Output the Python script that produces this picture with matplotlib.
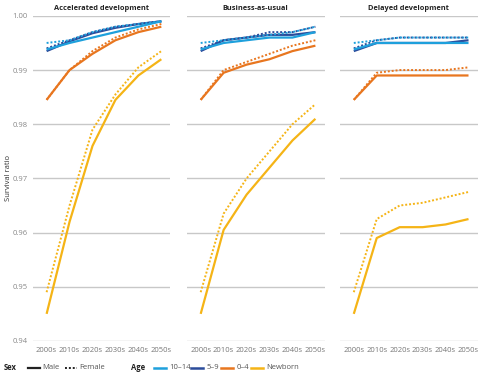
import matplotlib
matplotlib.use("Agg")
import matplotlib.pyplot as plt
from matplotlib.lines import Line2D

decades = ["2000s", "2010s", "2020s", "2030s", "2040s", "2050s"]
scenarios = ["Accelerated development", "Business-as-usual", "Delayed development"]
ages = ["Newborn", "0\u20134", "5\u20139", "10\u201314"]
age_colors = {"10\u201314": "#1ea0dc", "5\u20139": "#2b4c9b", "0\u20134": "#e8761f", "Newborn": "#f5b416"}

# Accelerated development
acc_newborn_m = [0.945, 0.962, 0.976, 0.9845, 0.989, 0.992]
acc_newborn_f = [0.949, 0.965, 0.979, 0.9855, 0.9905, 0.9935]
acc_04_m = [0.9845, 0.990, 0.993, 0.9955, 0.997, 0.998]
acc_04_f = [0.9845, 0.990, 0.9935, 0.996, 0.9975, 0.9985]
acc_59_m = [0.9935, 0.9953, 0.9968, 0.9978, 0.9985, 0.999]
acc_59_f = [0.994, 0.9955, 0.997, 0.998, 0.9985, 0.999]
acc_1014_m = [0.9938, 0.995, 0.996, 0.997, 0.998, 0.999]
acc_1014_f = [0.995, 0.9955, 0.997, 0.998, 0.9985, 0.999]

# Business-as-usual
bau_newborn_m = [0.945, 0.9605, 0.967, 0.972, 0.977, 0.981]
bau_newborn_f = [0.949, 0.9635, 0.970, 0.975, 0.980, 0.9837]
bau_04_m = [0.9845, 0.9895, 0.991, 0.992, 0.9935, 0.9945]
bau_04_f = [0.9845, 0.990, 0.9915, 0.993, 0.9945, 0.9955]
bau_59_m = [0.9935, 0.9955, 0.996, 0.9965, 0.9965, 0.997]
bau_59_f = [0.994, 0.9955, 0.996, 0.997, 0.997, 0.998]
bau_1014_m = [0.9938, 0.995, 0.9955, 0.996, 0.996, 0.997]
bau_1014_f = [0.995, 0.9955, 0.996, 0.9965, 0.997, 0.998]

# Delayed development
del_newborn_m = [0.945, 0.959, 0.961, 0.961, 0.9615, 0.9625]
del_newborn_f = [0.949, 0.9625, 0.965, 0.9655, 0.9665, 0.9675]
del_04_m = [0.9845, 0.989, 0.989, 0.989, 0.989, 0.989]
del_04_f = [0.9845, 0.9895, 0.990, 0.990, 0.990, 0.9905]
del_59_m = [0.9935, 0.995, 0.995, 0.995, 0.995, 0.9955]
del_59_f = [0.994, 0.9955, 0.996, 0.996, 0.996, 0.996]
del_1014_m = [0.9938, 0.995, 0.995, 0.995, 0.995, 0.995]
del_1014_f = [0.995, 0.9955, 0.996, 0.996, 0.996, 0.996]

data = {
    "Accelerated development": {
        "Newborn": (acc_newborn_m, acc_newborn_f), "0\u20134": (acc_04_m, acc_04_f),
        "5\u20139": (acc_59_m, acc_59_f), "10\u201314": (acc_1014_m, acc_1014_f)},
    "Business-as-usual": {
        "Newborn": (bau_newborn_m, bau_newborn_f), "0\u20134": (bau_04_m, bau_04_f),
        "5\u20139": (bau_59_m, bau_59_f), "10\u201314": (bau_1014_m, bau_1014_f)},
    "Delayed development": {
        "Newborn": (del_newborn_m, del_newborn_f), "0\u20134": (del_04_m, del_04_f),
        "5\u20139": (del_59_m, del_59_f), "10\u201314": (del_1014_m, del_1014_f)},
}

yticks = [0.94, 0.95, 0.96, 0.97, 0.98, 0.99, 1.00]
plt.rcParams['font.family'] = ['Open Sans', 'DejaVu Sans']

fig = plt.figure(figsize=(4.83, 3.78), dpi=100)
lefts = [0.068, 0.387, 0.704]
width = 0.285
bottom, top = 0.098, 0.958
x = list(range(len(decades)))
for i, sc in enumerate(scenarios):
    ax = fig.add_axes([lefts[i], bottom, width, top - bottom])
    for age in ages:
        m, f = data[sc][age]
        ax.plot(x, m, color=age_colors[age], lw=1.6, solid_capstyle='butt', zorder=3)
        ax.plot(x, f, color=age_colors[age], lw=1.4, linestyle=(0, (1, 1)), zorder=3)
    ax.set_ylim(0.94, 1.00)
    ax.set_xlim(-0.6, 5.4)
    ax.set_yticks(yticks)
    ax.grid(axis='y', color='#c8c8c8', lw=1.0, zorder=0)
    ax.set_axisbelow(True)
    for s in ax.spines.values():
        s.set_visible(False)
    ax.set_xticks(x)
    ax.set_xticklabels(decades, fontsize=5.5, color='#777777')
    ax.tick_params(length=0, pad=4)
    if i == 0:
        ax.set_yticklabels([f"{v:.2f}" for v in yticks], fontsize=5.5, color='#888888')
    else:
        ax.set_yticklabels([])
    ax.set_title(sc, fontsize=5.3, fontweight='bold', color='#222222', pad=4)

fig.text(0.017, 0.53, "Survival ratio", fontsize=5.5, color='#333333',
         rotation=90, va='center', ha='center')

# Legend
ly = 0.027
fig.text(0.008, ly, "Sex", fontsize=5.5, fontweight='bold', va='center', color='#222222')
fig.add_artist(Line2D([0.058, 0.083], [ly, ly], color='#222222', lw=1.6))
fig.text(0.088, ly, "Male", fontsize=5.5, va='center', color='#555555')
fig.add_artist(Line2D([0.135, 0.160], [ly, ly], color='#222222', lw=1.4, linestyle=(0, (1, 1))))
fig.text(0.165, ly, "Female", fontsize=5.5, va='center', color='#555555')
fig.text(0.272, ly, "Age", fontsize=5.5, fontweight='bold', va='center', color='#222222')
legend_pos = [("10\u201314", 0.318), ("5\u20139", 0.395), ("0\u20134", 0.457), ("Newborn", 0.520)]
for age, xp in legend_pos:
    fig.add_artist(Line2D([xp, xp + 0.025], [ly, ly], color=age_colors[age], lw=1.8))
    fig.text(xp + 0.032, ly, age, fontsize=5.5, va='center', color='#555555')

fig.savefig("out.png", dpi=100)
